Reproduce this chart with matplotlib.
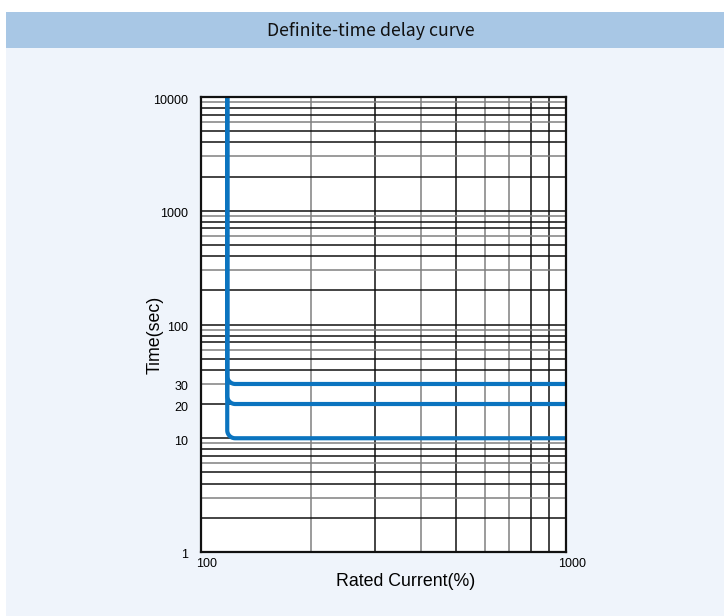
import matplotlib as mpl
mpl.use('Agg')
import matplotlib.pyplot as plt
import matplotlib.transforms as mtransforms
from matplotlib.patches import Rectangle
import numpy as np

# data
pickup_current = 118          # % of rated current where the delay starts
delay_levels = [30, 20, 10]   # definite-time settings (sec)
x_range = [100, 1000]
y_range = [1, 10000]
y_tick_values = [1, 10, 20, 30, 100, 1000, 10000]
y_tick_labels = ['1', '10', '20', '30', '100', '1000', '10000']
x_tick_values = [100, 1000]
x_tick_labels = ['100', '1000']
x_grid = [200, 300, 400, 500, 600, 700, 800, 900]
x_grid_colors = ['#808080', '#111111', '#808080', '#111111', '#808080', '#808080', '#111111', '#111111']
y_grid_mult = [2, 3, 4, 5, 6, 7, 8, 9]
y_grid_colors = ['#111111', '#808080', '#111111', '#111111', '#808080', '#111111', '#111111', '#808080']

W, H = 724, 616
fig = plt.figure(figsize=(W / 100, H / 100), dpi=100)
fig.patch.set_facecolor('white')

# page background and title band
fig.patches.append(Rectangle((6 / W, 0), 1 - 6 / W, 1 - 12 / H, transform=fig.transFigure,
                             facecolor='#eff4fb', edgecolor='none', zorder=-2))
fig.patches.append(Rectangle((6 / W, 1 - 48 / H), 1 - 6 / W, 36 / H, transform=fig.transFigure,
                             facecolor='#a8c7e5', edgecolor='none', zorder=-1))
fig.text(371 / W, 1 - 31 / H, 'Definite-time delay curve', ha='center', va='center',
         fontsize=12.8, family=['Noto Sans CJK KR', 'DejaVu Sans'], fontweight='medium', color='#111111')

left, right, top, bottom = 201, 566, 97, 552
ax = fig.add_axes([left / W, 1 - bottom / H, (right - left) / W, (bottom - top) / H])
ax.set_facecolor('white')
ax.set_xscale('log')
ax.set_yscale('log')
ax.set_xlim(x_range)
ax.set_ylim(y_range)

# grid lines
for xv, c in zip(x_grid, x_grid_colors):
    ax.axvline(xv, color=c, lw=1.1, zorder=1)
for dec in [1, 10, 100, 1000]:
    for m, c in zip(y_grid_mult, y_grid_colors):
        ax.axhline(m * dec, color=c, lw=1.1, zorder=1)
for yv in [10, 100, 1000]:
    ax.axhline(yv, color='#111111', lw=1.1, zorder=1)

# delay curves: vertical at pickup, rounded corner, then flat
rx, ry = 0.022, 0.07
lx = np.log10(pickup_current)
for lvl in delay_levels:
    ly = np.log10(lvl)
    t = np.linspace(np.pi, 1.5 * np.pi, 20)
    cx, cy = lx + rx, ly + ry
    arc_x = 10 ** (cx + rx * np.cos(t))
    arc_y = 10 ** (cy + ry * np.sin(t))
    xs = np.concatenate([[pickup_current], arc_x, [x_range[1]]])
    ys = np.concatenate([[y_range[1]], arc_y, [lvl]])
    ax.plot(xs, ys, color='#0b74bf', lw=3, solid_capstyle='butt', zorder=3, clip_on=False)

for s in ax.spines.values():
    s.set_linewidth(1.6)
    s.set_color('#111111')
    s.set_zorder(4)

ax.minorticks_off()
ax.set_yticks(y_tick_values)
ax.set_yticklabels(y_tick_labels)
ax.set_xticks(x_tick_values)
ax.set_xticklabels(x_tick_labels)
ax.tick_params(length=0, labelsize=9, pad=9)
ax.tick_params(axis='x', pad=4)
for lab in ax.get_xticklabels():
    lab.set_transform(lab.get_transform() + mtransforms.ScaledTranslation(6 / 100, 0, fig.dpi_scale_trans))
for lab in ax.get_yticklabels():
    lab.set_transform(lab.get_transform() + mtransforms.ScaledTranslation(0, -2 / 100, fig.dpi_scale_trans))
for lab in ax.get_xticklabels() + ax.get_yticklabels():
    lab.set_family(['Liberation Sans', 'DejaVu Sans'])

ax.set_xlabel('Rated Current(%)', fontsize=12.8, family=['Liberation Sans', 'DejaVu Sans'])
ax.set_ylabel('Time(sec)', fontsize=12.8, family=['Liberation Sans', 'DejaVu Sans'])
ax.xaxis.set_label_coords((406 - left) / (right - left), (bottom - 582) / (bottom - top))
ax.yaxis.set_label_coords((155 - left) / (right - left), (bottom - 335) / (bottom - top))
ax.xaxis.label.set_va('center')
ax.yaxis.label.set_va('center')

fig.savefig('out.png', dpi=100, facecolor=fig.get_facecolor())
